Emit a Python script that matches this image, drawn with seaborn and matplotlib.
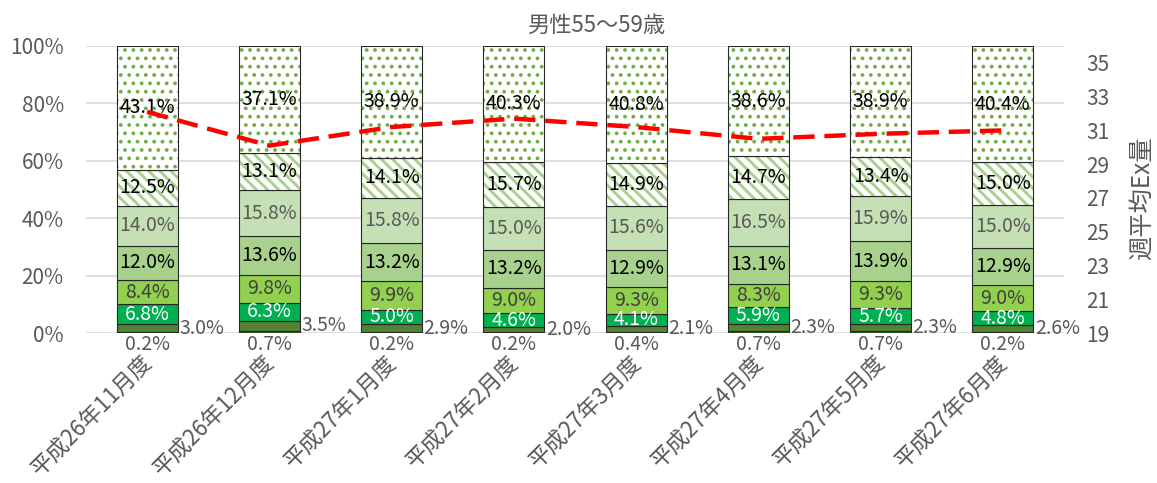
import numpy as np
import matplotlib
matplotlib.use("Agg")
import matplotlib.pyplot as plt
import matplotlib.colors as mcolors
from matplotlib.transforms import ScaledTranslation
import seaborn as sns

# ---- data -------------------------------------------------------------
categories = ["平成26年11月度", "平成26年12月度", "平成27年1月度", "平成27年2月度",
              "平成27年3月度", "平成27年4月度", "平成27年5月度", "平成27年6月度"]

seg_a = [0.2, 0.7, 0.2, 0.2, 0.4, 0.7, 0.7, 0.2]
seg_b = [3.0, 3.5, 2.9, 2.0, 2.1, 2.3, 2.3, 2.6]
seg_c = [6.8, 6.3, 5.0, 4.6, 4.1, 5.9, 5.7, 4.8]
seg_d = [8.4, 9.8, 9.9, 9.0, 9.3, 8.3, 9.3, 9.0]
seg_e = [12.0, 13.6, 13.2, 13.2, 12.9, 13.1, 13.9, 12.9]
seg_f = [14.0, 15.8, 15.8, 15.0, 15.6, 16.5, 15.9, 15.0]
seg_g = [12.5, 13.1, 14.1, 15.7, 14.9, 14.7, 13.4, 15.0]
seg_h = [43.1, 37.1, 38.9, 40.3, 40.8, 38.6, 38.9, 40.4]

weekly_ex = [32.1, 30.1, 31.2, 31.7, 31.2, 30.5, 30.8, 31.0]

title = "男性55〜59歳"
right_label = "週平均Ex量"

# ---- style ------------------------------------------------------------
sns.set_theme(style="white")
plt.rcParams["font.family"] = ["Noto Sans CJK JP", "DejaVu Sans"]
GRAY = "#595959"
EDGE = "#262626"

segments = [seg_a, seg_b, seg_c, seg_d, seg_e, seg_f, seg_g, seg_h]
fills = ["#385723", "#548235", "#00B050", "#92D050", "#A9D18E", "#C5E0B4", "white", "white"]
hatches = [None, None, None, None, None, None, "\\\\\\", ".."]
hatch_colors = [None, None, None, None, None, None, "#A9D18E", "#70AD47"]
hatch_widths = [None, None, None, None, None, None, 2.1, 1.5]
label_colors = [GRAY, GRAY, "white", "#404040", "black", GRAY, "black", "black"]
LABEL_FS = 14

fig = plt.figure(figsize=(11.57, 4.83), dpi=100)
ax = fig.add_axes([86 / 1157, 1 - 333 / 483, (1064 - 86) / 1157, (333 - 46) / 483])

x = np.arange(len(categories))
bottom = np.zeros(len(categories))
bar_w = 0.5

for i, vals in enumerate(segments):
    vals = np.asarray(vals, dtype=float)
    n_before = len(ax.patches)
    extra = {} if hatches[i] is None else {"hatch": hatches[i]}
    sns.barplot(x=x, y=vals, bottom=bottom, color=fills[i], width=bar_w,
                edgecolor=EDGE, linewidth=0.8, saturation=1,
                errorbar=None, native_scale=True, ax=ax, zorder=2, **extra)
    if hatches[i] is not None:
        hc = mcolors.to_rgba(hatch_colors[i])
        for p in ax.patches[n_before:]:
            if hasattr(p, "set_hatchcolor"):
                p.set_hatchcolor(hc)
            p._hatch_color = hc
            if hasattr(p, "set_hatch_linewidth"):
                p.set_hatch_linewidth(hatch_widths[i])
            p._hatch_linewidth = hatch_widths[i]

    for xi, (b, v) in enumerate(zip(bottom, vals)):
        txt = f"{v:.1f}%"
        if i == 0:
            ax.annotate(txt, (xi, 0), xytext=(0, -1), textcoords="offset points",
                        ha="center", va="top", fontsize=LABEL_FS, color=label_colors[i], zorder=5)
        elif i == 1:
            ax.annotate(txt, (xi + bar_w / 2, b + v / 2), xytext=(1, 0),
                        textcoords="offset points", ha="left", va="center",
                        fontsize=LABEL_FS, color=label_colors[i], zorder=5)
        else:
            ax.text(xi, b + v / 2, txt, ha="center", va="center", fontsize=LABEL_FS,
                    color=label_colors[i], zorder=5)
    bottom = bottom + vals

ax.set_xlim(-0.5, len(categories) - 0.5)
ax.set_ylim(0, 100)
ax.set_yticks(np.arange(0, 101, 20))
ax.set_yticklabels([f"{t}%" for t in range(0, 101, 20)])
ax.set_xticks(x)
ax.set_xticklabels(categories, rotation=45, ha="right", va="center", rotation_mode="anchor")
ax.set_xlabel("")
ax.set_ylabel("")
ax.yaxis.grid(True, color="#D9D9D9", linewidth=1.2, zorder=0)
ax.set_axisbelow(True)
for s in ax.spines.values():
    s.set_visible(False)
ax.tick_params(axis="y", length=0, pad=16, labelsize=15, labelcolor=GRAY)
ax.tick_params(axis="x", length=0, pad=19, labelsize=16, labelcolor=GRAY)
shift = ScaledTranslation(2 / 100, 0, fig.dpi_scale_trans)
for lbl in ax.get_xticklabels():
    lbl.set_transform(lbl.get_transform() + shift)

fig.text(596 / 1157, 1 - 25 / 483, title, ha="center", va="center",
         fontsize=16, color=GRAY)

# ---- secondary axis: weekly average line ------------------------------
ax2 = ax.twinx()
sns.lineplot(x=x, y=weekly_ex, ax=ax2, color="#FF0000", linewidth=3.2, zorder=6)
ax2.lines[-1].set_dashes((4.8, 2.2))
ax2.set_ylim(19, 36)
ax2.set_yticks(np.arange(19, 36, 2))
for s in ax2.spines.values():
    s.set_visible(False)
ax2.tick_params(axis="y", length=0, pad=16, labelsize=15, labelcolor=GRAY)
ax2.set_ylabel(right_label, fontsize=17.5, color=GRAY)
ax2.yaxis.label.set_va("center")
ax2.yaxis.set_label_coords((1142 - 86) / 978, (333 - 198) / 287)
ax2.grid(False)
ax2.set_xlim(-0.5, len(categories) - 0.5)

fig.savefig("out.png", dpi=100)
